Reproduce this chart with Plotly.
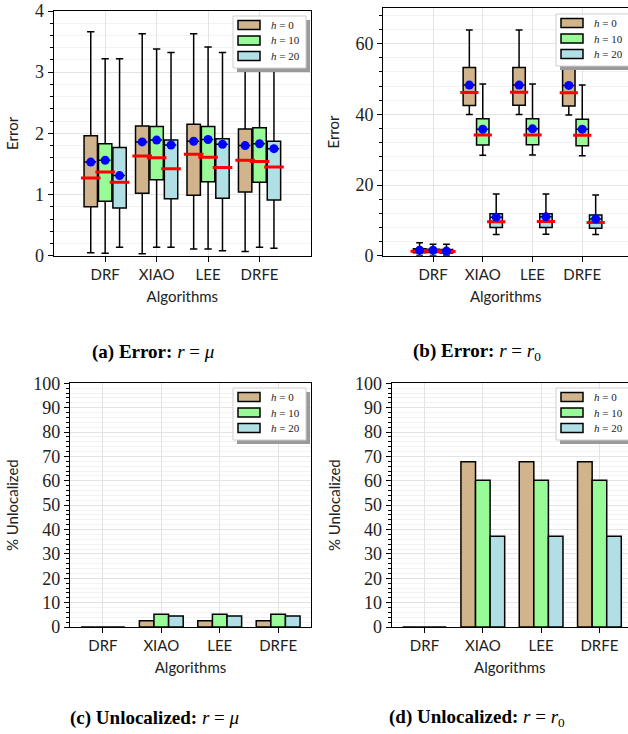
import plotly.graph_objects as go

W, H = 628, 734

categories = ["DRF", "XIAO", "LEE", "DRFE"]
series_names = ["<i>h</i> = 0", "<i>h</i> = 10", "<i>h</i> = 20"]
fill_colors = ["#D2B48C", "#98FB98", "#B0E0E6"]

# ---- Panel (a): Error, r = mu  (per series: values for DRF, XIAO, LEE, DRFE)
a_lower = [[0.05, 0.03, 0.11, 0.07], [0.04, 0.14, 0.11, 0.14], [0.14, 0.14, 0.08, 0.12]]
a_q1 = [[0.80, 1.02, 0.99, 1.04], [0.89, 1.24, 1.21, 1.20], [0.78, 0.93, 0.94, 0.91]]
a_median = [[1.27, 1.63, 1.66, 1.56], [1.37, 1.60, 1.61, 1.54], [1.20, 1.42, 1.44, 1.45]]
a_q3 = [[1.96, 2.12, 2.15, 2.07], [1.83, 2.11, 2.11, 2.09], [1.77, 1.89, 1.91, 1.87]]
a_upper = [[3.66, 3.63, 3.63, 3.62], [3.22, 3.38, 3.41, 3.40], [3.22, 3.32, 3.32, 3.32]]
a_mean = [[1.53, 1.86, 1.87, 1.80], [1.56, 1.89, 1.90, 1.83], [1.31, 1.81, 1.82, 1.75]]

# ---- Panel (b): Error, r = r0
b_lower = [[0.05, 40.0, 40.0, 39.8], [0.04, 28.4, 28.5, 28.3], [0.14, 6.0, 6.1, 6.0]]
b_q1 = [[0.80, 42.5, 42.6, 42.4], [0.89, 31.3, 31.4, 31.1], [0.78, 8.0, 8.0, 7.8]]
b_median = [[1.27, 46.2, 46.3, 46.1], [1.37, 34.2, 34.2, 34.1], [1.20, 9.6, 9.7, 9.4]]
b_q3 = [[1.96, 53.3, 53.3, 53.0], [1.83, 38.8, 38.8, 38.6], [1.77, 11.9, 11.9, 11.5]]
b_upper = [[3.66, 63.9, 63.9, 63.8], [3.22, 48.6, 48.6, 48.3], [3.22, 17.5, 17.5, 17.2]]
b_mean = [[1.53, 48.3, 48.3, 48.2], [1.56, 35.8, 35.9, 35.8], [1.31, 10.9, 11.0, 10.4]]

# ---- Panel (c), (d): % Unlocalized
c_values = [[0, 2.6, 2.6, 2.6], [0, 5.2, 5.2, 5.2], [0, 4.5, 4.5, 4.5]]
d_values = [[0, 67.8, 67.8, 67.8], [0, 60.2, 60.2, 60.2], [0, 37.2, 37.2, 37.2]]

captions = [
    "<b>(a) Error:</b> <i>r</i> = <i>μ</i>",
    "<b>(b) Error:</b> <i>r</i> = <i>r</i><sub>0</sub>",
    "<b>(c) Unlocalized:</b> <i>r</i> = <i>μ</i>",
    "<b>(d) Unlocalized:</b> <i>r</i> = <i>r</i><sub>0</sub>",
]

SERIF = "Liberation Serif"
SANS = "Lato"


def px_x(p):
    return p / W


def px_y(p):
    return 1 - p / H


fig = go.Figure()

box_offsets = {"a": [-0.28, 0.0, 0.28], "b": [-0.27, 0.0, 0.27]}
box_width = {"a": 0.26, "b": 0.25}
median_px = {"a": 14, "b": 13}

panels_box = [
    ("a", "x", "y", a_lower, a_q1, a_median, a_q3, a_upper, a_mean),
    ("b", "x2", "y2", b_lower, b_q1, b_median, b_q3, b_upper, b_mean),
]
for key, xa, ya, lo, q1, med, q3, up, mn in panels_box:
    for s in range(3):
        xs = [i + box_offsets[key][s] for i in range(len(categories))]
        fig.add_trace(go.Box(
            x=xs, q1=q1[s], median=med[s], q3=q3[s], lowerfence=lo[s], upperfence=up[s],
            mean=mn[s], width=box_width[key], whiskerwidth=0.55, boxpoints=False,
            fillcolor=fill_colors[s], line=dict(color="black", width=1.5),
            name=series_names[s], showlegend=False, xaxis=xa, yaxis=ya, hoverinfo="skip",
        ))
    for s in range(3):
        xs = [i + box_offsets[key][s] for i in range(len(categories))]
        fig.add_trace(go.Scatter(
            x=xs, y=med[s], mode="markers", showlegend=False, xaxis=xa, yaxis=ya,
            marker=dict(symbol="line-ew", size=median_px[key], line=dict(color="red", width=3)),
            hoverinfo="skip",
        ))
        fig.add_trace(go.Scatter(
            x=xs, y=mn[s], mode="markers", showlegend=False, xaxis=xa, yaxis=ya,
            marker=dict(symbol="circle", size=9, color="blue"), hoverinfo="skip",
        ))

bar_offsets = [-0.25, 0.0, 0.25]
for xa, ya, vals in [("x3", "y3", c_values), ("x4", "y4", d_values)]:
    for s in range(3):
        xs = [i + bar_offsets[s] for i in range(len(categories))]
        fig.add_trace(go.Bar(
            x=xs, y=vals[s], width=0.25, marker=dict(color=fill_colors[s], line=dict(color="black", width=1.5)),
            name=series_names[s], showlegend=False, xaxis=xa, yaxis=ya, hoverinfo="skip",
        ))

grid_major = "#e3e3e3"
grid_minor = "#f2f2f2"


def xaxis_cfg(domain, rng, anchor, title_standoff=9):
    return dict(
        domain=domain, range=rng, anchor=anchor,
        tickmode="array", tickvals=list(range(len(categories))), ticktext=categories,
        ticks="outside", ticklen=5, tickwidth=1.3, tickcolor="black",
        showline=True, linecolor="black", linewidth=1.3, mirror=True,
        showgrid=True, gridcolor=grid_major, gridwidth=1, zeroline=False,
        tickfont=dict(family=SANS, size=15, color="#222"),
        title=dict(text="Algorithms", font=dict(family=SANS, size=15, color="#222"), standoff=title_standoff),
        automargin=False, fixedrange=True,
    )


def yaxis_cfg(domain, rng, anchor, dtick, minor_dtick, title, mirror=True, standoff=10):
    return dict(
        domain=domain, range=rng, anchor=anchor,
        dtick=dtick, tick0=0,
        ticks="outside", ticklen=5, tickwidth=1.3, tickcolor="black",
        minor=dict(dtick=minor_dtick, tick0=0, ticks="outside", ticklen=3, tickwidth=1, tickcolor="black",
                   showgrid=True, gridcolor=grid_minor, gridwidth=1),
        showline=True, linecolor="black", linewidth=1.3, mirror=mirror,
        showgrid=True, gridcolor=grid_major, gridwidth=1, zeroline=False,
        tickfont=dict(family=SERIF, size=18, color="#222"),
        title=dict(text=title, font=dict(family=SANS, size=15, color="#222"), standoff=standoff),
        automargin=False, fixedrange=True,
    )


dom_a_x = [px_x(53.7), px_x(311)]
dom_b_x = [px_x(383.3), 1.0]
dom_c_x = [px_x(70), px_x(311)]
dom_d_x = [px_x(391.7), 1.0]
dom_ab_y = [px_y(255.7), px_y(11)]
dom_b_y = [px_y(255.7), px_y(8.4)]
dom_cd_y = [px_y(627), px_y(383.3)]

fig.update_layout(
    width=W, height=H, margin=dict(l=0, r=0, t=0, b=0),
    paper_bgcolor="white", plot_bgcolor="white",
    boxmode="overlay", barmode="overlay",
    showlegend=False,
    xaxis=xaxis_cfg(dom_a_x, [-1, 4], "y"),
    yaxis=yaxis_cfg(dom_ab_y, [0, 4], "x", 1, 0.2, "Error", standoff=12),
    xaxis2=xaxis_cfg(dom_b_x, [-1, 3.92], "y2"),
    yaxis2=yaxis_cfg(dom_b_y, [0, 70], "x2", 20, 4, "Error", mirror=False, standoff=12),
    xaxis3=xaxis_cfg(dom_c_x, [-0.5625, 3.5625], "y3"),
    yaxis3=yaxis_cfg(dom_cd_y, [0, 100], "x3", 10, 2, "% Unlocalized", standoff=10),
    xaxis4=xaxis_cfg(dom_d_x, [-0.5625, 3.49], "y4"),
    yaxis4=yaxis_cfg(dom_cd_y, [0, 100], "x4", 10, 2, "% Unlocalized", mirror=False, standoff=10),
)

# legends drawn as boxes: (left, top) of each legend frame in pixels
legend_pos = [(233, 16), (556, 14), (233, 388), (556, 388)]
LW, LH = 73, 52
for (lx, ly) in legend_pos:
    fig.add_shape(type="rect", xref="paper", yref="paper",
                  x0=px_x(lx + 4), x1=px_x(lx + LW + 4), y0=px_y(ly + LH + 4), y1=px_y(ly + 4),
                  fillcolor="#9a9a9a", line=dict(width=0), layer="above")
    fig.add_shape(type="rect", xref="paper", yref="paper",
                  x0=px_x(lx), x1=px_x(lx + LW), y0=px_y(ly + LH), y1=px_y(ly),
                  fillcolor="white", line=dict(color="#cfcfcf", width=1), layer="above")
    for s in range(3):
        cy = ly + 9 + s * 15.5
        fig.add_shape(type="rect", xref="paper", yref="paper",
                      x0=px_x(lx + 5), x1=px_x(lx + 27), y0=px_y(cy + 4.5), y1=px_y(cy - 4.5),
                      fillcolor=fill_colors[s], line=dict(color="black", width=1.5), layer="above")
        fig.add_annotation(text=series_names[s], xref="paper", yref="paper",
                           x=px_x(lx + 36), y=px_y(cy), xanchor="left", yanchor="middle",
                           showarrow=False, font=dict(family=SERIF, size=11, color="#222"))

caption_pos = [(153, 352), (477, 352), (154, 718), (477, 718)]
for text, (cx, cy) in zip(captions, caption_pos):
    fig.add_annotation(text=text, xref="paper", yref="paper", x=px_x(cx), y=px_y(cy),
                       xanchor="center", yanchor="middle", showarrow=False,
                       font=dict(family=SERIF, size=19, color="black"))

fig.write_html("out.html")
